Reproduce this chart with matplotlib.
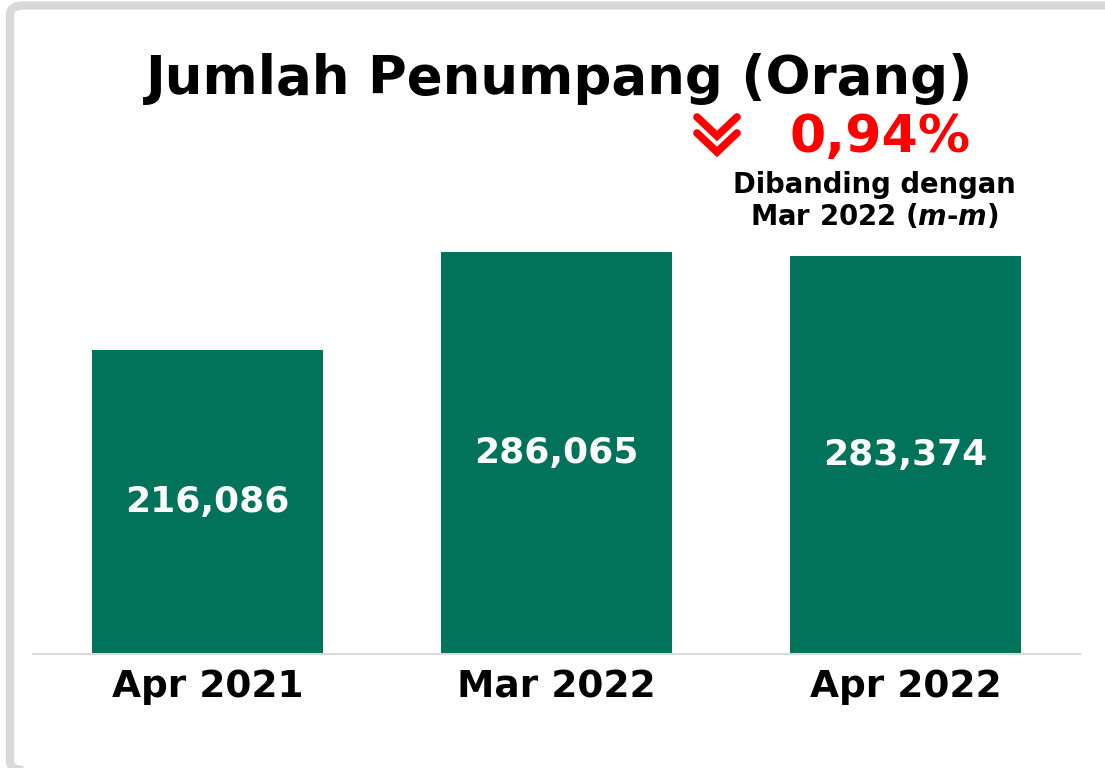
"""
Jumlah penumpang (orang) per bulan, Apr 2021 / Mar 2022 / Apr 2022,
dengan perubahan m-m terhadap bulan sebelumnya.
"""

import matplotlib.pyplot as plt
from matplotlib.lines import Line2D
from matplotlib.patches import FancyBboxPatch

# Data
# ----------------------------------------------------------------------------

periods = ['Apr 2021', 'Mar 2022', 'Apr 2022']
passengers = [216086, 286065, 283374]
change_pct = '0,94%'

green = '#00735A'
grey = '#D9D9D9'

# Plot
# ----------------------------------------------------------------------------

plt.close('all')

W, H = 1105, 768
fig = plt.figure(figsize=(W / 100, H / 100), dpi=100)
fig.patch.set_facecolor('white')

# outer frame (rounded, cut off on the right)
frame = FancyBboxPatch((10 / W, -2 / H), 1.2, 764.5 / H, boxstyle='round,pad=0,rounding_size=0.012',
                       transform=fig.transFigure, facecolor='none', edgecolor=grey, lw=6, zorder=0)
fig.add_artist(frame)

ax = fig.add_axes([33 / W, (H - 654) / H, 1047 / W, 463.5 / H])
x = range(len(periods))
bars = ax.bar(x, passengers, width=0.662, color=green, zorder=2)
ax.set_xlim(-0.5, 2.5)
ax.set_ylim(0, 330000)

for b, v in zip(bars, passengers):
    ax.text(b.get_x() + b.get_width() / 2, v / 2, f'{v:,}', ha='center', va='center',
            color='white', fontsize=26, fontweight='bold')

for s in ('top', 'right', 'left'):
    ax.spines[s].set_visible(False)
ax.spines['bottom'].set_color(grey)
ax.spines['bottom'].set_linewidth(1.5)
ax.set_yticks([])
ax.set_xticks(list(x))
ax.set_xticklabels(periods, fontsize=27, fontweight='bold')
ax.tick_params(axis='x', length=0, pad=11)

fig.text(560 / W, 1 - 79 / H, 'Jumlah Penumpang (Orang)', ha='center', va='center',
         fontsize=38.2, fontweight='bold')

# m-m change marker: double chevron pointing down
for top in (117, 133):
    xs = [697 / W, 717 / W, 737 / W]
    ys = [1 - top / H, 1 - (top + 19) / H, 1 - top / H]
    fig.add_artist(Line2D(xs, ys, transform=fig.transFigure, color='red', lw=5.5,
                          solid_capstyle='round', solid_joinstyle='miter'))

fig.text(880 / W, 1 - 138 / H, change_pct, ha='center', va='center', color='red',
         fontsize=37.5, fontweight='bold')
fig.text(874 / W, 1 - 201 / H, 'Dibanding dengan\nMar 2022 ($\\mathbfit{m}$-$\\mathbfit{m}$)',
         ha='center', va='center', fontsize=19.8, fontweight='bold', linespacing=1.15)

fig.savefig('out.png', dpi=100)
